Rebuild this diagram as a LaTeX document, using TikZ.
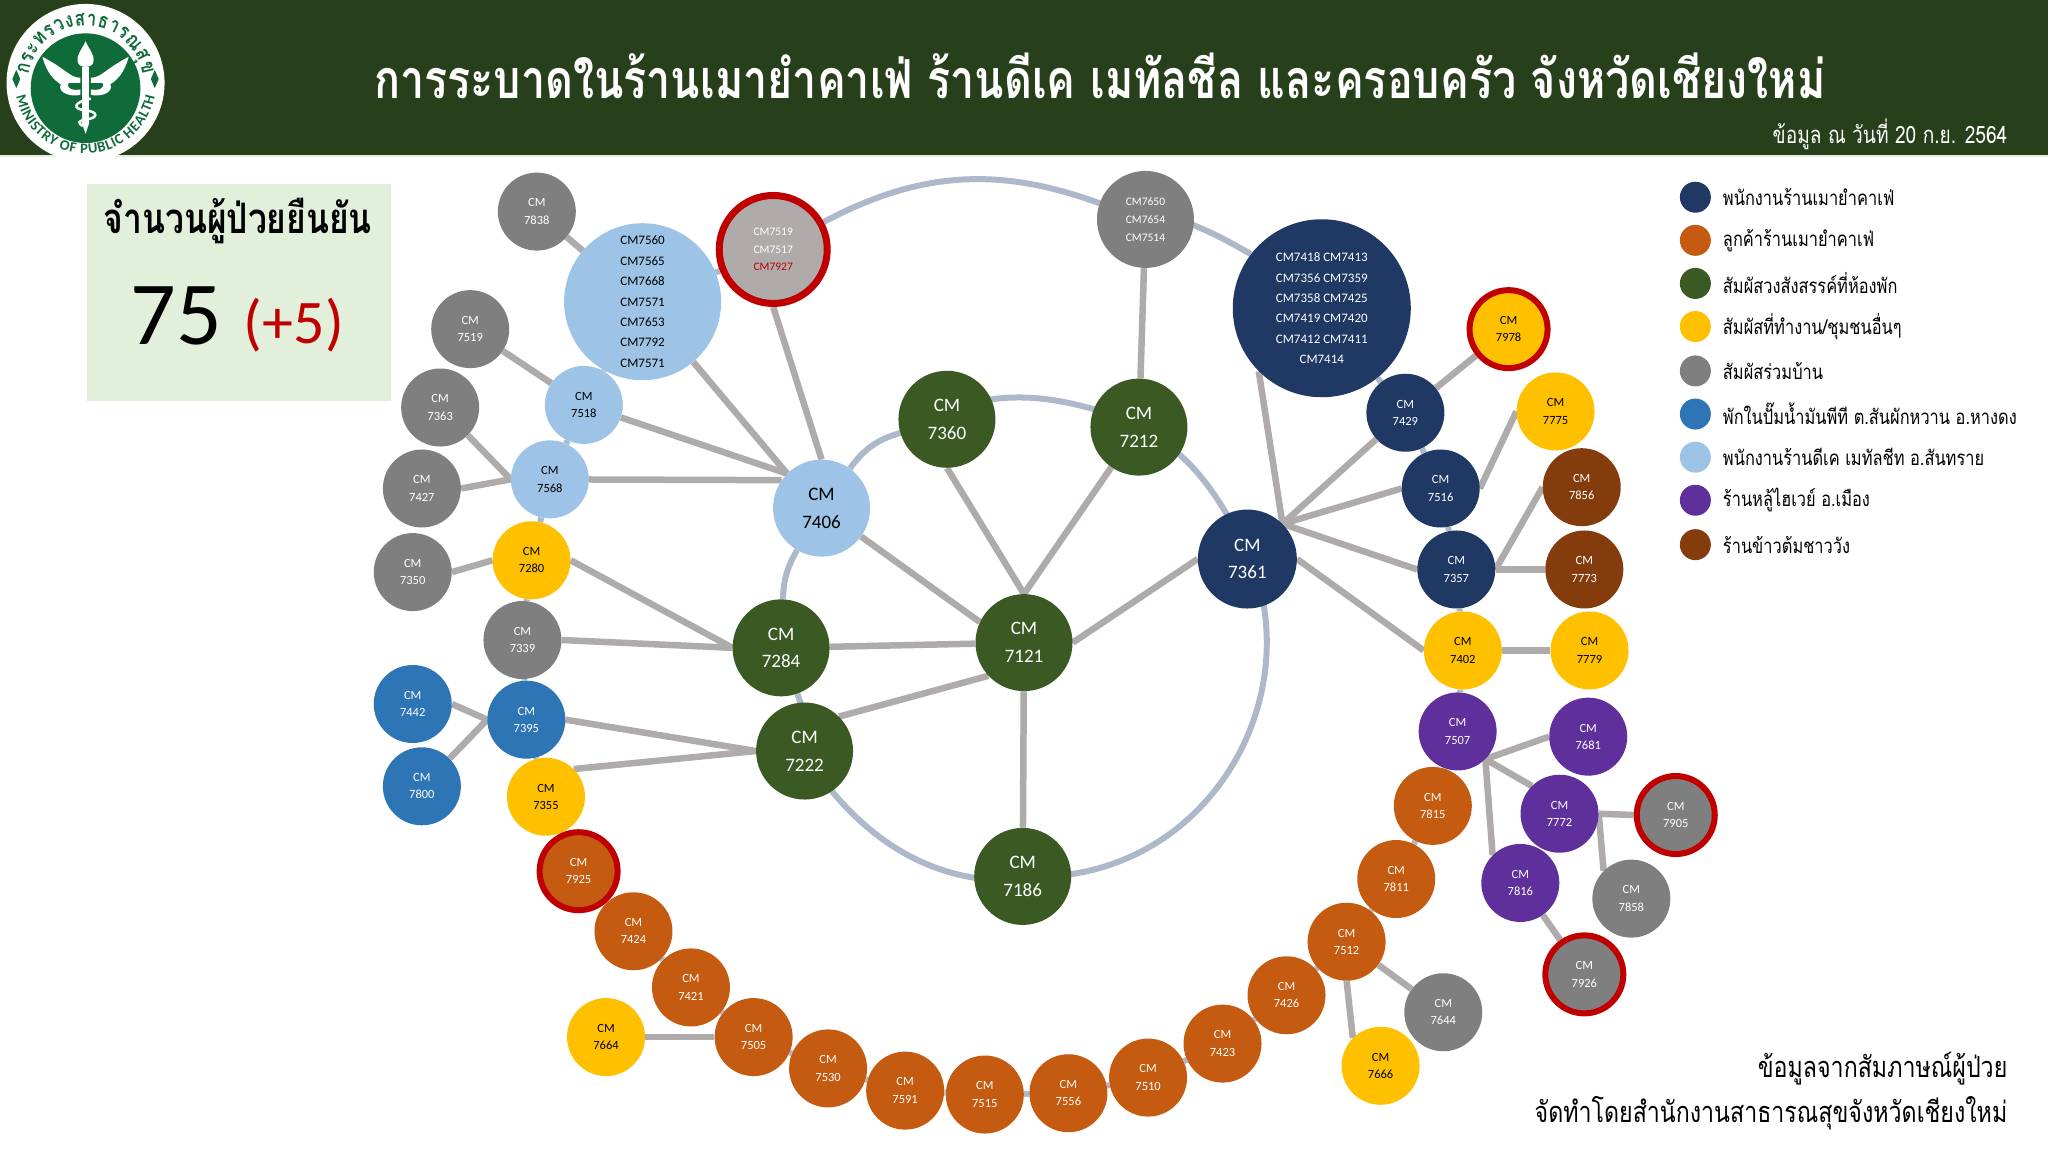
\documentclass[tikz,border=0pt]{standalone}
\usepackage{fontspec}
\setmainfont{Carlito}
\newfontfamily\thaifont[Script=Thai,FakeStretch=0.8]{Loma}
\usetikzlibrary{backgrounds,decorations.text}

\definecolor{headgreen}{HTML}{27401B}
\definecolor{cnavy}{HTML}{1F3864}
\definecolor{corange}{HTML}{C55A11}
\definecolor{cgreen}{HTML}{3B5A23}
\definecolor{cyellow}{HTML}{FFC000}
\definecolor{cgrey}{HTML}{7F7F7F}
\definecolor{cblue}{HTML}{2E75B6}
\definecolor{clight}{HTML}{9DC3E6}
\definecolor{cpurple}{HTML}{5F2F9C}
\definecolor{cbrown}{HTML}{843C0C}
\definecolor{cred}{HTML}{C00000}
\definecolor{clink}{HTML}{AFABAB}
\definecolor{cring}{HTML}{ADB9CA}
\definecolor{cpanel}{HTML}{E2EFDA}
\definecolor{clogo}{HTML}{0F6B3A}

\tikzset{
  case/.style = {shape = circle, inner sep = 0pt, minimum size = 78pt, align = center, text = white, font = \fontsize{12.5}{17.3}\selectfont},
  bigcase/.style = {case, minimum size = 97pt, font = \fontsize{19}{27.7}\selectfont},
  navy/.style = {fill = cnavy},
  orange/.style = {fill = corange},
  dgreen/.style = {fill = cgreen},
  yellow/.style = {fill = cyellow, text = black},
  grey/.style = {fill = cgrey},
  blue/.style = {fill = cblue},
  light/.style = {fill = clight, text = black},
  purple/.style = {fill = cpurple},
  brown/.style = {fill = cbrown},
  redring/.style = {draw = cred, line width = 6pt},
  link/.style = {draw = clink, line width = 6.5pt},
  ring/.style = {draw = cring, line width = 6pt},
  thaitext/.style = {font = \thaifont\fontsize{#1}{#1}\selectfont, inner sep = 0pt},
  keydot/.style = {shape = circle, inner sep = 0pt, minimum size = 31pt},
  keytext/.style = {thaitext = 20.5, anchor = west, text = black}
}

\begin{document}
\begin{tikzpicture}[x = 1.30612pt, y = -1.30612pt]
\useasboundingbox (0,0) rectangle (1568,882);

% header and logo
\fill[headgreen] (0,0) rectangle (1568,119.5);
\draw[cpanel, line width = 1.5pt] (0,119.5) -- (1568,119.5);
\begin{scope}[shift = {(65.5,63.5)}, x = 1.30612pt, y = 1.30612pt]
\fill[white] (0,0) circle (60.5);
\fill[clogo] (0,-4) circle (42);
\path[decorate, decoration = {text along path, text align = {fit to path}, text = {|\thaifont\bfseries\fontsize{21}{21}\selectfont\color{clogo}|กระทรวงสาธารณสุข}}] (172:44) arc (172:8:44);
\path[decorate, decoration = {text along path, text align = {fit to path}, text = {|\bfseries\fontsize{14.5}{14.5}\selectfont\color{clogo}|MINISTRY OF PUBLIC HEALTH}}] (191:54) arc (191:349:54);
\fill[clogo] (-56,3) -- (-53,10) -- (-50,3) -- (-53,-4) -- cycle;
\fill[clogo] (56,3) -- (53,10) -- (50,3) -- (53,-4) -- cycle;
\begin{scope}[shift = {(0,-4)}]
\fill[white] (0,36) .. controls (-3,29) and (-7,26) .. (-6,20) .. controls (-5,15) and (5,15) .. (6,20) .. controls (7,26) and (3,29) .. (0,36);
\fill[white] (-3,16) rectangle (3,-26);
\fill[white] (-3,-26) -- (0,-35) -- (3,-26) -- cycle;
\fill[white] (-4,8) .. controls (-12,8) and (-14,14) .. (-33,24) .. controls (-30,12) and (-24,6) .. (-19,3) .. controls (-22,-4) and (-10,-7) .. (-4,-5) -- (-4,-1) .. controls (-9,-2) and (-15,-1) .. (-13,4) -- (-4,4) -- cycle;
\fill[white] (4,8) .. controls (12,8) and (14,14) .. (33,24) .. controls (30,12) and (24,6) .. (19,3) .. controls (22,-4) and (10,-7) .. (4,-5) -- (4,-1) .. controls (9,-2) and (15,-1) .. (13,4) -- (4,4) -- cycle;
\draw[white, line width = 2.5pt] (4,-8) .. controls (-10,-11) and (-10,-16) .. (0,-17) .. controls (10,-18) and (10,-23) .. (0,-24) .. controls (-6,-25) and (-6,-27) .. (-2,-29);
\end{scope}
\end{scope}
\node[inner sep = 0pt, text = white, font = \thaifont\bfseries\fontsize{53.8}{53.8}\selectfont] (title) at (842,58) {การระบาดในร้านเมายำคาเฟ่ ร้านดีเค เมทัลชีล และครอบครัว จังหวัดเชียงใหม่};
\node[thaitext = 23.9, text = white, anchor = east] (date) at (1537,103) {ข้อมูล ณ วันที่ 20 ก.ย. 2564};

% count box
\node[fill = cpanel, inner sep = 0pt, minimum width = 304pt, minimum height = 217pt] (panel) at (183,224) {};
\node[inner sep = 0pt, font = \thaifont\bfseries\fontsize{42}{42}\selectfont] (countlabel) at (182,169) {จำนวนผู้ป่วยยืนยัน};
\node[inner sep = 0pt, font = \fontsize{90}{90}\selectfont] (count) at (135,242) {75};
\node[inner sep = 0pt, text = cred, font = \fontsize{62}{62}\selectfont] (newcount) at (225,249) {(+5)};

% big nodes
\node[bigcase, dgreen] (7360) at (725,321) {CM\\7360};
\node[bigcase, dgreen] (7212) at (872,327) {CM\\7212};
\node[bigcase, dgreen] (7121) at (784,492) {CM\\7121};
\node[bigcase, dgreen] (7284) at (598,496) {CM\\7284};
\node[bigcase, dgreen] (7222) at (616,575) {CM\\7222};
\node[bigcase, dgreen] (7186) at (783,671) {CM\\7186};
\node[bigcase, light] (7406) at (629,389) {CM\\7406};
\node[bigcase, navy, minimum size = 99pt] (7361) at (955,428) {CM\\7361};

% groups of cases
\node[case, light, minimum size = 157pt, font = \fontsize{13}{20.4}\selectfont] (7560) at (492,231) {CM7560\\CM7565\\CM7668\\CM7571\\CM7653\\CM7792\\CM7571};
\node[case, navy, minimum size = 178pt, font = \fontsize{13}{20.4}\selectfont] (7418) at (1012,236) {CM7418 CM7413\\CM7356 CM7359\\CM7358 CM7425\\CM7419 CM7420\\CM7412 CM7411\\CM7414};
\node[case, redring, fill = clink, minimum size = 108pt, line width = 7pt, font = \fontsize{11.5}{17.8}\selectfont] (7517) at (592,191) {CM7519\\CM7517\\\textcolor{cred}{CM7927}};
\node[case, grey, minimum size = 97pt, font = \fontsize{11.5}{17.8}\selectfont] (7650) at (877,168) {CM7650\\CM7654\\CM7514};

% left side
\node[case, grey] (7838) at (411,162) {CM\\7838};
\node[case, grey] (7519) at (360,252) {CM\\7519};
\node[case, grey] (7363) at (337,312) {CM\\7363};
\node[case, grey] (7427) at (323,374) {CM\\7427};
\node[case, grey] (7350) at (316,438) {CM\\7350};
\node[case, light] (7518) at (447,310) {CM\\7518};
\node[case, light] (7568) at (421,367) {CM\\7568};
\node[case, yellow] (7280) at (407,429) {CM\\7280};
\node[case, grey] (7339) at (400,490) {CM\\7339};
\node[case, blue] (7442) at (316,539) {CM\\7442};
\node[case, blue] (7395) at (403,551) {CM\\7395};
\node[case, blue] (7800) at (323,602) {CM\\7800};
\node[case, yellow] (7355) at (418,610) {CM\\7355};

% bottom row
\node[case, orange, redring] (7925) at (443,667) {CM\\7925};
\node[case, orange] (7424) at (485,713) {CM\\7424};
\node[case, orange] (7421) at (529,756) {CM\\7421};
\node[case, orange] (7505) at (577,794) {CM\\7505};
\node[case, yellow] (7664) at (464,794) {CM\\7664};
\node[case, orange] (7530) at (634,818) {CM\\7530};
\node[case, orange] (7591) at (693,835) {CM\\7591};
\node[case, orange] (7515) at (754,838) {CM\\7515};
\node[case, orange] (7556) at (818,837) {CM\\7556};
\node[case, orange] (7510) at (879,825) {CM\\7510};
\node[case, orange] (7423) at (936,799) {CM\\7423};
\node[case, orange] (7426) at (985,762) {CM\\7426};
\node[case, orange] (7512) at (1031,721) {CM\\7512};
\node[case, orange] (7811) at (1069,673) {CM\\7811};
\node[case, orange] (7815) at (1097,617) {CM\\7815};
\node[case, grey] (7644) at (1105,775) {CM\\7644};
\node[case, yellow] (7666) at (1057,816) {CM\\7666};

% right side
\node[case, navy] (7429) at (1076,316) {CM\\7429};
\node[case, navy] (7516) at (1103,374) {CM\\7516};
\node[case, navy] (7357) at (1115,436) {CM\\7357};
\node[case, yellow] (7402) at (1120,498) {CM\\7402};
\node[case, purple] (7507) at (1116,560) {CM\\7507};
\node[case, yellow, redring] (7978) at (1155,252) {CM\\7978};
\node[case, yellow] (7775) at (1191,315) {CM\\7775};
\node[case, brown] (7856) at (1211,373) {CM\\7856};
\node[case, brown] (7773) at (1213,436) {CM\\7773};
\node[case, yellow] (7779) at (1217,498) {CM\\7779};
\node[case, purple] (7681) at (1216,564) {CM\\7681};
\node[case, purple] (7772) at (1194,623) {CM\\7772};
\node[case, grey, redring] (7905) at (1283,624) {CM\\7905};
\node[case, grey] (7858) at (1249,688) {CM\\7858};
\node[case, purple] (7816) at (1164,676) {CM\\7816};
\node[case, grey, redring] (7926) at (1213,746) {CM\\7926};

% legend
\node[keydot, navy] (key1) at (1298,151) {};
\node[keydot, orange] (key2) at (1298,184) {};
\node[keydot, dgreen] (key3) at (1298,217) {};
\node[keydot, yellow] (key4) at (1298,250) {};
\node[keydot, grey] (key5) at (1298,284) {};
\node[keydot, blue] (key6) at (1298,317) {};
\node[keydot, light] (key7) at (1298,350) {};
\node[keydot, purple] (key8) at (1298,383) {};
\node[keydot, brown] (key9) at (1298,417) {};
\node[keytext] at (1319,151) {พนักงานร้านเมายำคาเฟ่};
\node[keytext] at (1319,184) {ลูกค้าร้านเมายำคาเฟ่};
\node[keytext] at (1319,217) {สัมผัสวงสังสรรค์ที่ห้องพัก};
\node[keytext] at (1319,250) {สัมผัสที่ทำงาน/ชุมชนอื่นๆ};
\node[keytext] at (1319,284) {สัมผัสร่วมบ้าน};
\node[keytext] at (1319,317) {พักในปั๊มน้ำมันพีที ต.สันผักหวาน อ.หางดง};
\node[keytext] at (1319,350) {พนักงานร้านดีเค เมทัลชีท อ.สันทราย};
\node[keytext] at (1319,383) {ร้านหลู้ไฮเวย์ อ.เมือง};
\node[keytext] at (1319,417) {ร้านข้าวต้มชาววัง};

% source note
\node[thaitext = 29, anchor = east] (note1) at (1537,818) {ข้อมูลจากสัมภาษณ์ผู้ป่วย};
\node[thaitext = 29, anchor = east] (note2) at (1537,852) {จัดทำโดยสำนักงานสาธารณสุขจังหวัดเชียงใหม่};

\begin{pgfonlayer}{background}
% rings
\draw[ring] (7406) to[bend left = 19] (7360) to[bend left = 23] (7212) to[bend left = 21] (7361) to[bend left = 58, looseness = 1.1] (7186) to[bend left = 31] (7222) -- (7284) to[bend left = 14] (7406);
\draw[ring] (7517) to[bend left = 24] (7650) to[bend left = 12] (7418);
\draw[ring] (7517) -- (7560) -- (7518) -- (7568) -- (7280) -- (7339) -- (7395) -- (7355) -- (7925) -- (7424) -- (7421) -- (7505) -- (7530) -- (7591) -- (7515) -- (7556) -- (7510) -- (7423) -- (7426) -- (7512) -- (7811) -- (7815) -- (7507) -- (7402) -- (7357) -- (7516) -- (7429) -- (7418);
% contacts
\draw[link] (7838) -- (7560);
\draw[link] (7519) -- (7518);
\draw[link] (7560) -- (7406.135);
\draw[link] (7518) -- (7406.135);
\draw[link] (7568) -- (7406.145);
\draw[link] (7517.south) -- (7406.north);
\draw[link] (7406) -- (7121.155);
\draw[link] (7363.-45) -- (7568.west);
\draw[link] (7427.east) -- (7568.west);
\draw[link] (7350.east) -- (7280.west);
\draw[link] (7280.east) -- (7284.west);
\draw[link] (7339.east) -- (7284.west);
\draw[link] (7284) -- (7121);
\draw[link] (7360.south) -- (7121.north);
\draw[link] (7212) -- (7121.north);
\draw[link] (7222.45) -- (7121.223);
\draw[link] (7121) -- (7186);
\draw[link] (7121.east) -- (7361.west);
\draw[link] (7212) -- (7650);
\draw[link] (7442.east) -- (7395.west);
\draw[link] (7800.45) -- (7395.west);
\draw[link] (7395.east) -- (7222.west);
\draw[link] (7355.45) -- (7222.west);
\draw[link] (7664) -- (7505);
\draw[link] (7512) -- (7644);
\draw[link] (7512.south) -- (7666.135);
\draw[link] (7418.225) -- (7361.45);
\draw[link] (7429) -- (7361.45);
\draw[link] (7516.west) -- (7361.45);
\draw[link] (7357.west) -- (7361.45);
\draw[link] (7361.east) -- (7402.west);
\draw[link] (7429) -- (7978);
\draw[link] (7516.east) -- (7775.west);
\draw[link] (7357.east) -- (7856.west);
\draw[link] (7357) -- (7773);
\draw[link] (7402) -- (7779);
\draw[link] (7507.-45) -- (7681.west);
\draw[link] (7507.-45) -- (7772.135);
\draw[link] (7507.-45) -- (7816.135);
\draw[link] (7772.east) -- (7905.west);
\draw[link] (7772.east) -- (7858.135);
\draw[link] (7816) -- (7926);
\end{pgfonlayer}
\end{tikzpicture}
\end{document}
